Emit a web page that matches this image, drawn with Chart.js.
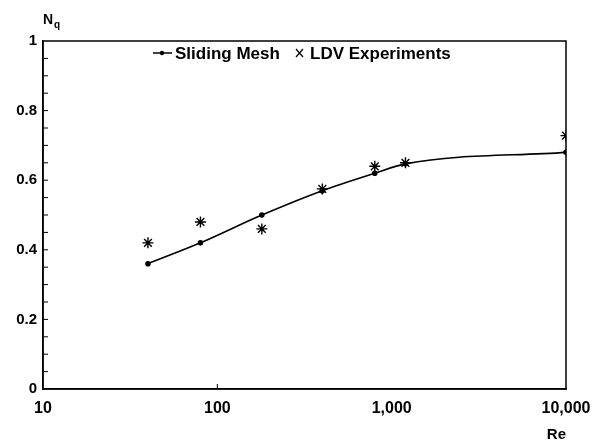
<!DOCTYPE html>
<html>
<head>
<meta charset="utf-8">
<script src="https://cdn.jsdelivr.net/npm/chart.js@4"></script>
<style>
  html, body { margin: 0; padding: 0; background: #fff; }
  #wrap { width: 597px; height: 444px; }
</style>
</head>
<body>
<div id="wrap"><canvas id="chart" width="597" height="444"></canvas></div>
<script>
// Reynolds numbers and pumping number values
const reMesh = [40, 80, 180, 400, 800, 1200, 10000];
const nqMesh = [0.36, 0.42, 0.50, 0.57, 0.62, 0.647, 0.68];
const reLdv = [40, 80, 180, 400, 800, 1200, 10000];
const nqLdv = [0.42, 0.48, 0.46, 0.575, 0.64, 0.65, 0.728];
const xTicks = [10, 100, 1000, 10000];
const yLabelTicks = [0, 0.2, 0.4, 0.6, 0.8, 1];
const seriesNames = ['Sliding Mesh', 'LDV Experiments'];

const FONT = "'Liberation Sans', Arial, sans-serif";

// frame, inward ticks, legend and the N_q label
const framePlugin = {
    id: 'frame',
    afterDraw(chart) {
        const ctx = chart.ctx;
        const a = chart.chartArea;
        const ys = chart.scales.y;
        const xs = chart.scales.x;
        ctx.save();
        ctx.strokeStyle = '#000';
        ctx.lineWidth = 1.5;
        ctx.strokeRect(a.left, a.top, a.right - a.left, a.bottom - a.top);

        ctx.lineWidth = 1;
        ys.ticks.forEach(t => {
            if (t.value <= 0 || t.value >= 1) return;
            const p = ys.getPixelForValue(t.value);
            ctx.beginPath();
            ctx.moveTo(a.left, p);
            ctx.lineTo(a.left + 5, p);
            ctx.stroke();
        });
        const px = xs.getPixelForValue(100);
        ctx.beginPath();
        ctx.moveTo(px, a.bottom);
        ctx.lineTo(px, a.bottom - 5);
        ctx.stroke();

        // legend inside the plot, top centre
        const ly = a.top + 12;
        ctx.lineWidth = 1.5;
        ctx.beginPath();
        ctx.moveTo(153, ly);
        ctx.lineTo(172, ly);
        ctx.stroke();
        ctx.fillStyle = '#000';
        ctx.beginPath();
        ctx.arc(162, ly, 2.2, 0, Math.PI * 2);
        ctx.fill();
        ctx.lineWidth = 1.2;
        ctx.beginPath();
        ctx.moveTo(296, ly - 4);
        ctx.lineTo(303, ly + 4);
        ctx.moveTo(303, ly - 4);
        ctx.lineTo(296, ly + 4);
        ctx.stroke();

        ctx.textBaseline = 'alphabetic';
        ctx.textAlign = 'left';
        ctx.font = 'bold 17px ' + FONT;
        ctx.fillText(seriesNames[0], 175, ly + 6);
        ctx.fillText(seriesNames[1], 310, ly + 6);

        ctx.font = 'bold 14px ' + FONT;
        ctx.fillText('N', 43, 24);
        ctx.font = 'bold 10px ' + FONT;
        ctx.fillText('q', 54, 28);
        ctx.restore();
    }
};

new Chart(document.getElementById('chart').getContext('2d'), {
    type: 'line',
    data: {
        datasets: [{
            label: seriesNames[0],
            data: reMesh.map((r, i) => ({ x: r, y: nqMesh[i] })),
            borderColor: '#000',
            backgroundColor: '#000',
            borderWidth: 1.6,
            pointRadius: 2,
            pointStyle: 'circle',
            cubicInterpolationMode: 'monotone',
            fill: false
        }, {
            label: seriesNames[1],
            data: reLdv.map((r, i) => ({ x: r, y: nqLdv[i] })),
            showLine: false,
            borderColor: '#000',
            backgroundColor: '#000',
            borderWidth: 1.4,
            pointRadius: 5.5,
            pointStyle: 'star'
        }]
    },
    options: {
        responsive: false,
        animation: false,
        layout: { padding: { left: 0, right: 0, top: 41, bottom: 0 } },
        plugins: {
            tooltip: { enabled: false },
            legend: { display: false }
        },
        scales: {
            x: {
                type: 'logarithmic',
                min: 10,
                max: 10000,
                afterBuildTicks(scale) {
                    scale.ticks = xTicks.map(v => ({ value: v }));
                },
                afterFit(scale) {
                    scale.height = 55;
                    scale.paddingRight = 31;
                },
                ticks: {
                    color: '#000',
                    maxRotation: 0,
                    autoSkip: false,
                    padding: 10,
                    font: { family: FONT, size: 16, weight: 'bold' },
                    callback: v => Number(v).toLocaleString('en-US')
                },
                grid: { display: false, drawTicks: false },
                border: { display: true, color: '#000', width: 1.5 },
                title: {
                    display: true,
                    text: 'Re',
                    align: 'end',
                    color: '#000',
                    padding: { top: 0, bottom: 0 },
                    font: { family: FONT, size: 15, weight: 'bold' }
                }
            },
            y: {
                min: 0,
                max: 1,
                afterFit(scale) {
                    scale.width = 43;
                },
                ticks: {
                    stepSize: 0.05,
                    autoSkip: false,
                    color: '#000',
                    padding: 6,
                    font: { family: FONT, size: 15, weight: 'bold' },
                    callback: v => {
                        const hit = yLabelTicks.find(t => Math.abs(t - v) < 1e-6);
                        return hit === undefined ? '' : String(hit);
                    }
                },
                grid: { display: false, drawTicks: false },
                border: { display: true, color: '#000', width: 1.5 }
            }
        }
    },
    plugins: [framePlugin]
});
</script>
</body>
</html>
